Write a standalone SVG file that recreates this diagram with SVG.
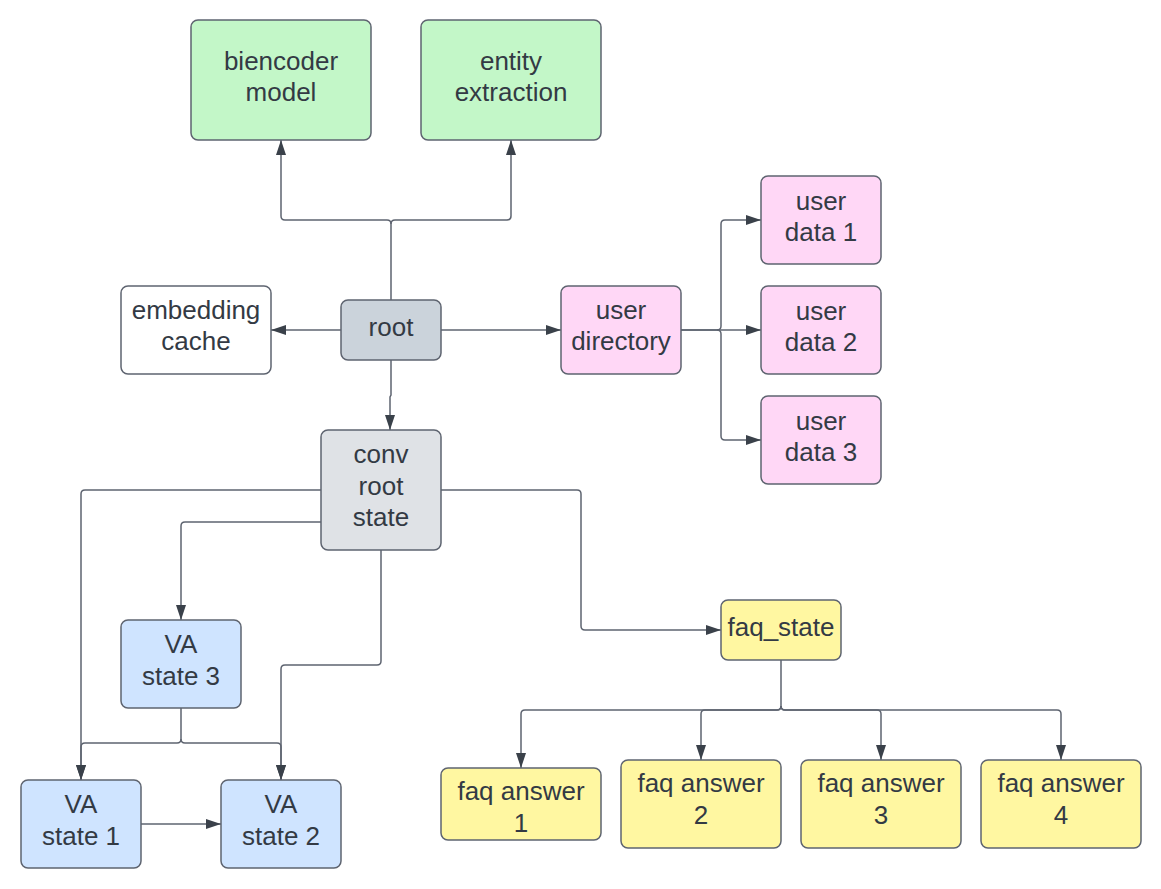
<svg xmlns="http://www.w3.org/2000/svg" width="1161" height="889" viewBox="0 0 1161 889">
<style>
.n rect{stroke:#5e6470;stroke-width:1.5}
.n text{font-family:"Liberation Sans",Arial,sans-serif;font-size:26px;fill:#333a44;text-anchor:middle}
.g rect{fill:#c3f7c8}
.p rect{fill:#ffd7f6}
.b rect{fill:#cfe4ff}
.y rect{fill:#fff7a1}
.w rect{fill:#ffffff}
#connectors path{fill:none;stroke:#5e6470;stroke-width:1.5}
</style>
<defs>
<marker id="ah" markerUnits="userSpaceOnUse" markerWidth="15" markerHeight="10" refX="15" refY="5" orient="auto" viewBox="0 0 15 10">
<path d="M0,0 L15,5 L0,10 Z" fill="#3a414a"/>
</marker>
</defs>
<rect width="1161" height="889" fill="#ffffff"/>
<g id="connectors">
<path d="M391,300 V224 Q391,220 387,220 H285 Q281,220 281,216 V140" marker-end="url(#ah)"/>
<path d="M391,224 Q391,220 395,220 H507 Q511,220 511,216 V140" marker-end="url(#ah)"/>
<path d="M341,330 H271" marker-end="url(#ah)"/>
<path d="M441,330 H561" marker-end="url(#ah)"/>
<path d="M391,360 V395 L390,397 V430" marker-end="url(#ah)"/>
<path d="M681,330 H717 Q721,330 721,326 V224 Q721,220 725,220 H761" marker-end="url(#ah)"/>
<path d="M681,330 H761" marker-end="url(#ah)"/>
<path d="M717,330 Q721,330 721,334 V436 Q721,440 725,440 H761" marker-end="url(#ah)"/>
<path d="M321,490 H85 Q81,490 81,494 V780" marker-end="url(#ah)"/>
<path d="M321,522 H185 Q181,522 181,526 V620" marker-end="url(#ah)"/>
<path d="M381,550 V661 Q381,665 377,665 H285 Q281,665 281,669 V780" marker-end="url(#ah)"/>
<path d="M181,708 V739 Q181,743 177,743 H85 Q81,743 81,747 V780" marker-end="url(#ah)"/>
<path d="M181,739 Q181,743 185,743 H277 Q281,743 281,747 V780" marker-end="url(#ah)"/>
<path d="M141,824 H221" marker-end="url(#ah)"/>
<path d="M441,490 H577 Q581,490 581,494 V626 Q581,630 585,630 H721" marker-end="url(#ah)"/>
<path d="M781,660 V706 Q781,710 777,710 H525 Q521,710 521,714 V768" marker-end="url(#ah)"/>
<path d="M781,706 Q781,710 777,710 H705 Q701,710 701,714 V760" marker-end="url(#ah)"/>
<path d="M781,706 Q781,710 785,710 H877 Q881,710 881,714 V760" marker-end="url(#ah)"/>
<path d="M781,706 Q781,710 785,710 H1057 Q1061,710 1061,714 V760" marker-end="url(#ah)"/>
</g>
<g id="biencoder" class="n g"><rect x="191" y="20" width="180" height="120" rx="7"/><text x="281" y="70">biencoder</text><text x="281" y="101">model</text></g>
<g id="entity" class="n g"><rect x="421" y="20" width="180" height="120" rx="7"/><text x="511" y="70">entity</text><text x="511" y="101">extraction</text></g>
<g id="embedding" class="n w"><rect x="121" y="286" width="150" height="88" rx="7"/><text x="196" y="319">embedding</text><text x="196" y="350">cache</text></g>
<g id="root" class="n"><rect x="341" y="300" width="100" height="60" rx="7" fill="#cbd3db"/><text x="391" y="336">root</text></g>
<g id="userdir" class="n p"><rect x="561" y="286" width="120" height="88" rx="7"/><text x="621" y="319">user</text><text x="621" y="350">directory</text></g>
<g id="userdata1" class="n p"><rect x="761" y="176" width="120" height="88" rx="7"/><text x="821" y="210">user</text><text x="821" y="241">data 1</text></g>
<g id="userdata2" class="n p"><rect x="761" y="286" width="120" height="88" rx="7"/><text x="821" y="320">user</text><text x="821" y="351">data 2</text></g>
<g id="userdata3" class="n p"><rect x="761" y="396" width="120" height="88" rx="7"/><text x="821" y="430">user</text><text x="821" y="461">data 3</text></g>
<g id="convroot" class="n"><rect x="321" y="430" width="120" height="120" rx="7" fill="#dfe2e6"/><text x="381" y="463">conv</text><text x="381" y="495">root</text><text x="381" y="526">state</text></g>
<g id="va3" class="n b"><rect x="121" y="620" width="120" height="88" rx="7"/><text x="181" y="653">VA</text><text x="181" y="685">state 3</text></g>
<g id="va1" class="n b"><rect x="21" y="780" width="120" height="88" rx="7"/><text x="81" y="813">VA</text><text x="81" y="845">state 1</text></g>
<g id="va2" class="n b"><rect x="221" y="780" width="120" height="88" rx="7"/><text x="281" y="813">VA</text><text x="281" y="845">state 2</text></g>
<g id="faqstate" class="n y"><rect x="721" y="600" width="120" height="60" rx="7"/><text x="781" y="636">faq_state</text></g>
<g id="faq1" class="n y"><rect x="441" y="768" width="160" height="72" rx="7"/><text x="521" y="800">faq answer</text><text x="521" y="832">1</text></g>
<g id="faq2" class="n y"><rect x="621" y="760" width="160" height="88" rx="7"/><text x="701" y="792">faq answer</text><text x="701" y="824">2</text></g>
<g id="faq3" class="n y"><rect x="801" y="760" width="160" height="88" rx="7"/><text x="881" y="792">faq answer</text><text x="881" y="824">3</text></g>
<g id="faq4" class="n y"><rect x="981" y="760" width="160" height="88" rx="7"/><text x="1061" y="792">faq answer</text><text x="1061" y="824">4</text></g>
</svg>
